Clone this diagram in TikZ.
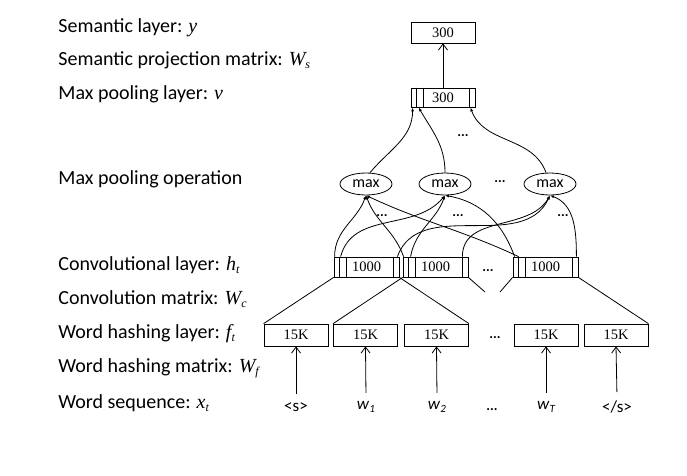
\documentclass[tikz,border=0pt]{standalone}
\usepackage{fontspec}
\setmainfont{Carlito}
\newfontfamily\tnr{Liberation Serif}
\usepackage{tikz}
\usetikzlibrary{positioning,shapes.geometric,arrows.meta,calc}

\newcommand{\mv}[1]{{\tnr\itshape #1}}
\newcommand{\mvsub}[2]{{\tnr\itshape #1}\raisebox{-0.35ex}{\tnr\itshape\fontsize{12}{12}\selectfont #2}}
\newcommand{\wsub}[2]{\textit{#1}\raisebox{-0.35ex}{\fontsize{11}{11}\selectfont\itshape #2}}

\begin{document}
\begin{tikzpicture}[
  x=1pt, y=-1pt, line width=0.8pt,
  every node/.style={font=\fontsize{20}{22}\selectfont},
  lbl/.style={anchor=mid west, inner sep=0pt},
  vecbox/.style={draw, minimum width=64pt, minimum height=21pt, inner sep=0pt,
                 font=\tnr\fontsize{14.5}{15}\selectfont},
  maxop/.style={draw, ellipse, minimum width=52pt, minimum height=22pt, inner sep=0pt,
                font=\fontsize{16}{17}\selectfont},
  dots/.style={inner sep=0pt, yshift=-3pt, font=\bfseries\fontsize{14}{15}\selectfont},
  word/.style={font=\fontsize{17}{18}\selectfont},
  up/.style={-{Straight Barb[length=6pt,width=9pt]}},
  feed/.style={-{Latex[length=4pt,width=3pt]}}
]
  \useasboundingbox (0,0) rectangle (687,475);

  % labels on the left
  \node[lbl] (l1) at (58,30)  {Semantic layer: \mv{y}};
  \node[lbl] (l2) at (58,63)  {Semantic projection matrix: \mvsub{W}{s}};
  \node[lbl] (l3) at (58,97)  {Max pooling layer: \mv{v}};
  \node[lbl] (l4) at (58,182) {Max pooling operation};
  \node[lbl] (l5) at (58,268) {Convolutional layer: \mvsub{h}{t}};
  \node[lbl] (l6) at (58,302) {Convolution matrix: \mvsub{W}{c}};
  \node[lbl] (l7) at (58,336) {Word hashing layer: \mvsub{f}{t}};
  \node[lbl] (l8) at (58,370) {Word hashing matrix: \mvsub{W}{f}};
  \node[lbl] (l9) at (58,406) {Word sequence: \mvsub{x}{t}};

  % semantic and pooling layers
  \node[vecbox] (sem) at (443,32.5) {300};
  \node[vecbox, minimum height=19pt] (pool) at (443,97.5) {300};
  \node[dots] (pdots) at (463,133) {...};

  % max pooling operations
  \node[maxop] (m1) at (366,184) {max};
  \node[maxop] (m2) at (445,184) {max};
  \node[maxop] (m3) at (550,184) {max};
  \node[dots] (mdots) at (500,179) {...};
  \node[dots] (d1) at (382,213) {...};
  \node[dots] (d2) at (458,213) {...};
  \node[dots] (d3) at (563,213) {...};

  % convolutional layer
  \node[vecbox, minimum width=65pt, minimum height=20pt] (c1) at (366.5,267) {1000};
  \node[vecbox, minimum width=65pt, minimum height=20pt] (c2) at (435.5,267) {1000};
  \node[vecbox, minimum width=65pt, minimum height=20pt] (c3) at (545.5,267) {1000};
  \node[dots] (cdots) at (488,268) {...};

  \foreach \n in {pool,c1,c2,c3} {
    \draw[line width=0.5pt] ([xshift=6pt]\n.north west) -- ([xshift=6pt]\n.south west);
    \draw[line width=0.5pt] ([xshift=13pt]\n.north west) -- ([xshift=13pt]\n.south west);
    \draw[line width=0.5pt] ([xshift=-6pt]\n.north east) -- ([xshift=-6pt]\n.south east);
  }

  % word hashing layer
  \node[vecbox, minimum height=22pt] (f1) at (296,335) {15K};
  \node[vecbox, minimum height=22pt] (f2) at (365.5,335) {15K};
  \node[vecbox, minimum height=22pt] (f3) at (436.5,335) {15K};
  \node[dots] (fdots) at (495,335) {...};
  \node[vecbox, minimum height=22pt] (f4) at (546,335) {15K};
  \node[vecbox, minimum height=22pt] (f5) at (616,335) {15K};

  % word sequence
  \node[word] (x0) at (296,407) {<s>};
  \node[word] (x1) at (366,407) {\wsub{w}{1}};
  \node[word] (x2) at (437,407) {\wsub{w}{2}};
  \node[dots] (xdots) at (492,407) {...};
  \node[word] (x3) at (546,407) {\wsub{w}{T}};
  \node[word] (x4) at (617,407) {</s>};

  \foreach \w/\f in {x0/f1,x1/f2,x2/f3,x3/f4,x4/f5}
    \draw[up, shorten <=5pt] (\w.north) -- (\f.south);

  % convolution windows
  \coordinate (cut2) at (485,292);
  \coordinate (cut3) at (500,292);
  \draw (c1.south west) -- (f1.north west);
  \draw (c1.south east) -- (f3.north east);
  \draw (c2.south west) -- (f2.north west);
  \draw (c2.south east) -- (cut2);
  \draw (c3.south west) -- (cut3);
  \draw (c3.south east) -- (f5.north east);

  % conv -> max
  \draw[feed] ([xshift=1pt]c1.north west)  to[out=90,in=-110]  (m1.south);
  \draw[feed] ([xshift=1pt]c2.north west)  to[out=110,in=-70]  (m1.south);
  \draw[feed] ([xshift=6pt]c3.north west)  to[out=155,in=-25]  (m1.south);
  \draw[feed] ([xshift=7pt]c1.north west)  to[out=75,in=-130]  (m2.south);
  \draw[feed] ([xshift=8pt]c2.north west)  to[out=80,in=-110]  (m2.south);
  \draw[feed] ([xshift=2pt]c3.north west)  to[out=110,in=-10]  (m2.south);
  \draw[feed] ([xshift=-2pt]c1.north east) to[out=70,in=-115]  (m3.south);
  \draw[feed] ([xshift=-6pt]c2.north east) to[out=90,in=-120]  (m3.south);
  \draw[feed] ([xshift=-2pt]c3.north east) to[out=90,in=-20]   (m3.south);

  % max -> pooling layer
  \draw[feed] ([xshift=4pt]m1.north)  to[out=50,in=-90]  ([xshift=2pt]pool.south west);
  \draw[feed] (m2.north)              to[out=90,in=-60]  ([xshift=8pt]pool.south west);
  \draw[feed] ([xshift=-4pt]m3.north) to[out=110,in=-70] ([xshift=-5pt]pool.south east);

  % projection
  \draw[up] (pool) -- (sem);
\end{tikzpicture}
\end{document}
